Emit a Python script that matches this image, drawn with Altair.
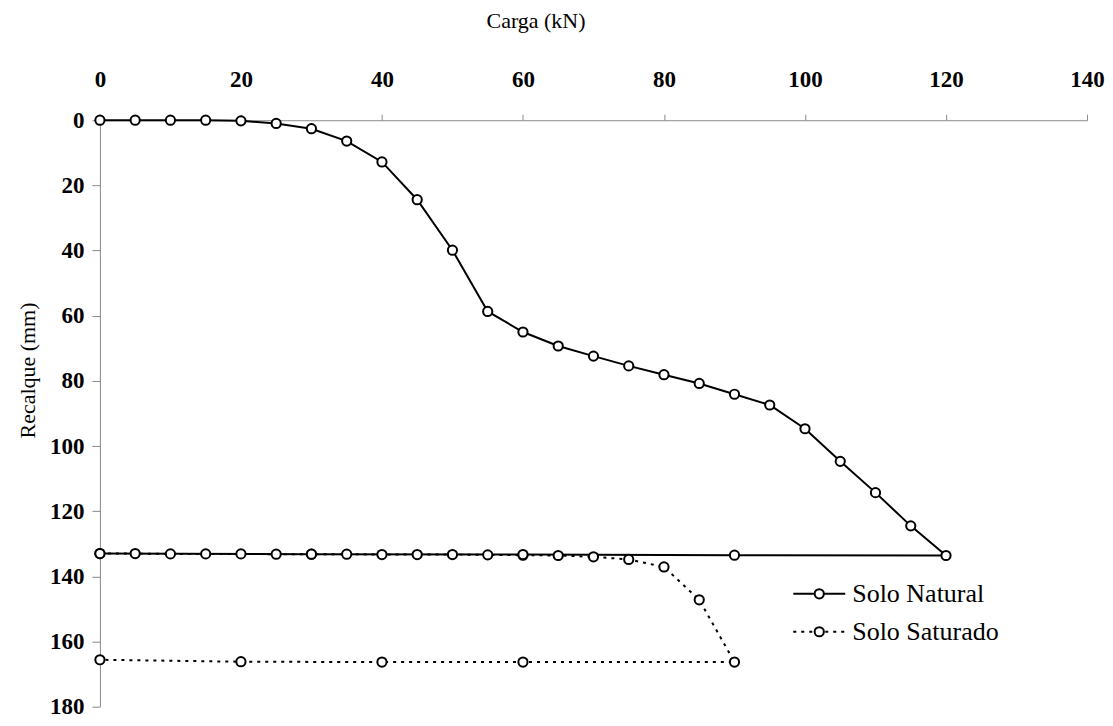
import altair as alt
import pandas as pd

# Solo Natural: loading 0..120 kN, then unloading
carga_nat = [0, 5, 10, 15, 20, 25, 30, 35, 40, 45, 50, 55, 60, 65, 70, 75, 80, 85, 90, 95,
             100, 105, 110, 115, 120, 90, 60, 30, 0]
recalque_nat = [0.0, 0.0, 0.0, 0.0, 0.2, 1.0, 2.6, 6.4, 12.8, 24.4, 39.9, 58.7, 65.0, 69.3,
                72.4, 75.4, 78.1, 80.8, 84.1, 87.4, 94.7, 104.7, 114.3, 124.5, 133.6,
                133.5, 133.3, 133.2, 133.0]

# Solo Saturado: loading 0..90 kN, then unloading
carga_sat = [0, 5, 10, 15, 20, 25, 30, 35, 40, 45, 50, 55, 60, 65, 70, 75, 80, 85, 90,
             60, 40, 20, 0]
recalque_sat = [133.0, 133.0, 133.1, 133.1, 133.1, 133.2, 133.2, 133.2, 133.3, 133.3, 133.3,
                133.4, 133.5, 133.6, 134.0, 134.8, 137.1, 147.2, 166.3,
                166.3, 166.3, 166.2, 165.6]

x_ticks = [0, 20, 40, 60, 80, 100, 120, 140]
y_ticks = [0, 20, 40, 60, 80, 100, 120, 140, 160, 180]

FONT = "Liberation Serif"

df_nat = pd.DataFrame({"carga": carga_nat, "recalque": recalque_nat,
                       "ordem": list(range(len(carga_nat)))})
df_sat = pd.DataFrame({"carga": carga_sat, "recalque": recalque_sat,
                       "ordem": list(range(len(carga_sat)))})

x_enc = alt.X("carga:Q",
              scale=alt.Scale(domain=[0, 140], nice=False, zero=False),
              axis=alt.Axis(orient="top", values=x_ticks, title="Carga (kN)",
                            titleX=436, titleY=-100, titleBaseline="middle",
                            titleAlign="center",
                            labelPadding=23, tickSize=6, labelFontSize=23,
                            labelFontWeight="bold"))
y_enc = alt.Y("recalque:Q",
              scale=alt.Scale(domain=[0, 180], reverse=True, nice=False, zero=False),
              axis=alt.Axis(values=y_ticks, title="Recalque (mm)",
                            titleX=-72, titleY=250, titleAngle=-90,
                            titleBaseline="middle", titleAlign="center",
                            labelPadding=8, tickSize=8, labelFontSize=23,
                            labelFontWeight="bold"))

line_nat = alt.Chart(df_nat).mark_line(color="black", strokeWidth=2).encode(
    x=x_enc, y=y_enc, order="ordem:Q")
pts_nat = alt.Chart(df_nat).mark_point(shape="circle", filled=True, fill="white",
                                       stroke="black", strokeWidth=2, size=85,
                                       opacity=1).encode(x=x_enc, y=y_enc)
line_sat = alt.Chart(df_sat).mark_line(color="black", strokeWidth=2,
                                       strokeDash=[3, 5]).encode(
    x=x_enc, y=y_enc, order="ordem:Q")
pts_sat = alt.Chart(df_sat).mark_point(shape="circle", filled=True, fill="white",
                                       stroke="black", strokeWidth=2, size=85,
                                       opacity=1).encode(x=x_enc, y=y_enc)

# manual legend
legend_names = ["Solo Natural", "Solo Saturado"]
leg = pd.DataFrame({"nome": legend_names})
leg_y = [474, 512]

legend_layers = []
for i, nome in enumerate(legend_names):
    d = leg[leg["nome"] == nome]
    dash = [1, 0] if i == 0 else [3, 5]
    legend_layers.append(alt.Chart(d).mark_rule(color="black", strokeWidth=2,
                                                 strokeDash=dash).encode(
        x=alt.value(694), x2=alt.value(746), y=alt.value(leg_y[i])))
    legend_layers.append(alt.Chart(d).mark_point(shape="circle", filled=True,
                                                  fill="white", stroke="black",
                                                  strokeWidth=2, size=85,
                                                  opacity=1).encode(
        x=alt.value(720), y=alt.value(leg_y[i])))
    legend_layers.append(alt.Chart(d).mark_text(align="left", baseline="middle",
                                                 font=FONT, fontSize=26,
                                                 color="black").encode(
        x=alt.value(753), y=alt.value(leg_y[i]), text="nome:N"))

chart = alt.layer(line_nat, line_sat, pts_sat, pts_nat, *legend_layers).properties(
    width=988, height=587,
    padding={"left": 92, "top": 112, "right": 18, "bottom": 11},
    autosize=alt.AutoSizeParams(type="none"),
    background="white",
).configure_view(stroke=None).configure_axis(
    labelFont=FONT, titleFont=FONT, labelColor="black", titleColor="black",
    titleFontSize=22, titleFontWeight="normal", domainColor="#8a8a8a",
    tickColor="#8a8a8a", domainWidth=1, tickWidth=1, grid=False,
    labelFlush=False, labelOverlap=False,
)

chart.save("out.html", embed_options={"renderer": "svg", "actions": False})
